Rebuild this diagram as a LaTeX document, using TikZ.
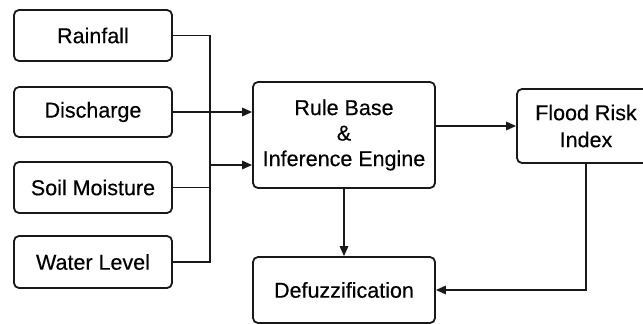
\documentclass[tikz,border=0pt]{standalone}
\usepackage{fontspec}
\setmainfont{Liberation Sans}[BoldFont={Liberation Sans},BoldFeatures={FakeBold=0.35}]
\usetikzlibrary{arrows.meta,calc}
\begin{document}
\begin{tikzpicture}[x=1pt,y=-1pt,
  box/.style={draw=black!90,line width=1.8pt,rounded corners=5pt,align=center,
    font=\fontsize{21.5}{25.5}\selectfont\bfseries,inner sep=0pt},
  wire/.style={draw=black!90,line width=1.6pt},
  arr/.style={wire,-{Triangle[length=10pt,width=8.5pt]}}]
\clip (0,0) rectangle (643,324);
\fill[white] (0,0) rectangle (643,324);
% inputs
\node[box,minimum width=158pt,minimum height=51pt] (rain) at (93,35.5) {Rainfall};
\node[box,minimum width=158pt,minimum height=50pt] (dis) at (93,112) {Discharge};
\node[box,minimum width=158pt,minimum height=51pt] (soil) at (93,187.5) {Soil Moisture};
\node[box,minimum width=158pt,minimum height=52pt] (water) at (93,262) {Water Level};
% processing blocks
\node[box,minimum width=182pt,minimum height=106pt] (rule) at (344,135) {Rule Base\\\&\\Inference Engine};
\node[box,minimum width=182pt,minimum height=66pt] (defz) at (344,290) {Defuzzification};
\node[box,minimum width=138pt,minimum height=74pt,font=\fontsize{21.5}{27}\selectfont\bfseries] (flood) at (586,126) {Flood Risk\\Index};
% collecting trunk
\coordinate (trunkTop) at (210,35.5);
\coordinate (trunkBot) at (210,262);
\coordinate (tap) at (210,165);
\draw[wire] (rain.east) -- (trunkTop) -- (trunkBot) -- (water.east);
\draw[wire] (soil.east) -- (soil.east -| trunkTop);
\draw[arr] (dis.east) -- (dis.east -| rule.west);
\draw[arr] (tap) -- (tap -| rule.west);
% outputs
\draw[arr] (rule.east |- flood.west) -- (flood.west);
\draw[arr] (rule.south) -- (defz.north);
\draw[arr] (flood.south) |- (defz.east);
\end{tikzpicture}
\end{document}
